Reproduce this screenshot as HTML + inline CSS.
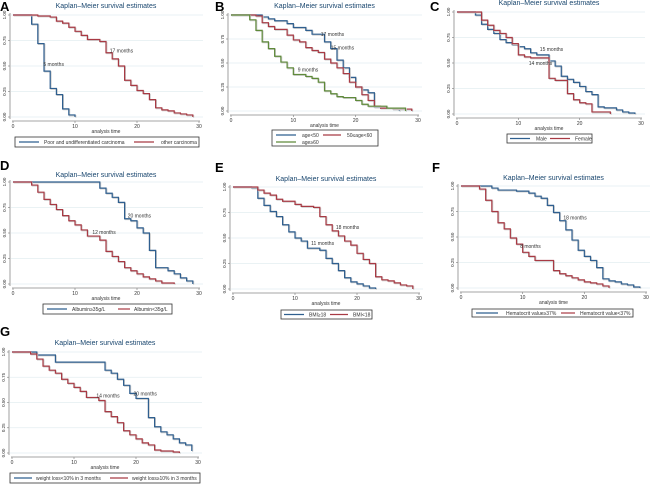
<!DOCTYPE html>
<html><head><meta charset="utf-8">
<style>
html,body{margin:0;padding:0;background:#fff;}
svg{display:block;font-family:"Liberation Sans",sans-serif;}
</style></head>
<body>
<svg id="fig" width="650" height="485" viewBox="0 0 650 485" xmlns="http://www.w3.org/2000/svg"></svg>
<script>
// ---- Data (times in months, survival probability after each step) ----
const xTicks=[0,10,20,30];
const yTicks=[0,0.25,0.5,0.75,1];
const yTickLabels=["0.00","0.25","0.50","0.75","1.00"];

const aPoorT=[3,4,5,6,7,8,9,10];
const aPoorS=[0.91,0.72,0.45,0.28,0.22,0.08,0.02,0];
const aOtherT=[4,6,7,8,9,10,11,12,14,15,16,17,18,19,20,21,22,23,24,25,26,27,28,29];
const aOtherS=[0.99,0.98,0.94,0.92,0.88,0.84,0.80,0.76,0.74,0.63,0.57,0.50,0.36,0.31,0.26,0.23,0.17,0.09,0.07,0.06,0.04,0.03,0.02,0];

const bYoungT=[5,6,7,9,10,12,13,15,16,17,18,19,20,21,22,23,24,26,27];
const bYoungS=[0.98,0.96,0.94,0.91,0.87,0.84,0.80,0.72,0.65,0.53,0.45,0.35,0.25,0.22,0.19,0.04,0.03,0.02,0];
const bMidT=[4,5,6,7,9,10,11,12,13,14,15,16,17,18,19,20,21,22,23,24,26,29];
const bMidS=[0.99,0.92,0.88,0.85,0.79,0.74,0.72,0.66,0.63,0.61,0.54,0.50,0.45,0.39,0.30,0.25,0.17,0.11,0.05,0.03,0.02,0];
const bOldT=[3,4,5,6,7,8,9,10,12,13,14,15,16,17,18,20,21,22,25,28];
const bOldS=[0.95,0.84,0.72,0.65,0.57,0.51,0.45,0.38,0.36,0.34,0.30,0.21,0.18,0.15,0.14,0.11,0.07,0.05,0.03,0];

const cMaleT=[3,4,5,6,7,8,9,10,11,12,13,15,16,17,18,19,20,21,22,23,24,26,27,28,29];
const cMaleS=[0.97,0.88,0.83,0.79,0.73,0.70,0.68,0.66,0.64,0.60,0.58,0.52,0.47,0.37,0.34,0.31,0.27,0.22,0.19,0.07,0.06,0.04,0.02,0.01,0];
const cFemT=[4,5,6,7,8,9,10,11,12,15,16,18,19,20,21,22,25];
const cFemS=[0.92,0.87,0.82,0.79,0.75,0.69,0.58,0.56,0.55,0.35,0.33,0.20,0.14,0.11,0.10,0.02,0];

const dHighT=[14,15,16,17,18,19,20,21,22,23,25,26,27,28,29];
const dHighS=[0.94,0.89,0.85,0.80,0.64,0.62,0.55,0.50,0.33,0.16,0.13,0.10,0.06,0.03,0];
const dLowT=[3,4,5,6,7,8,9,10,11,12,14,15,16,17,18,19,20,21,22,23,24,26];
const dLowS=[0.97,0.90,0.83,0.78,0.73,0.67,0.62,0.58,0.53,0.47,0.43,0.32,0.27,0.22,0.16,0.13,0.10,0.07,0.05,0.03,0.01,0];

const eHighT=[3,4,5,6,7,8,9,10,11,12,14,15,16,17,18,19,20,21,22,23];
const eHighS=[0.99,0.89,0.82,0.76,0.71,0.63,0.56,0.50,0.47,0.40,0.38,0.30,0.25,0.18,0.11,0.07,0.05,0.03,0.01,0];
const eLowT=[4,5,6,7,8,10,11,13,14,15,16,17,18,19,20,21,22,23,24,25,26,27,28,29];
const eLowS=[0.97,0.94,0.92,0.88,0.86,0.83,0.81,0.80,0.71,0.63,0.57,0.52,0.47,0.43,0.35,0.29,0.25,0.12,0.09,0.08,0.06,0.04,0.03,0];

const fHighT=[5,6,9,11,12,13,14,15,16,17,18,19,20,21,22,23,24,25,26,27,28,29];
const fHighS=[0.98,0.96,0.95,0.93,0.90,0.88,0.81,0.74,0.66,0.57,0.47,0.37,0.31,0.27,0.20,0.09,0.07,0.06,0.04,0.03,0.01,0];
const fLowT=[3,4,5,6,7,8,9,10,11,12,15,16,17,18,19,20,21,22,23,24];
const fLowS=[0.97,0.86,0.75,0.64,0.58,0.49,0.43,0.35,0.31,0.27,0.17,0.14,0.12,0.10,0.08,0.06,0.05,0.04,0.02,0];

const gLowT=[4,7,15,16,17,18,19,20,22,23,24,25,26,27,28,29];
const gLowS=[0.97,0.90,0.82,0.79,0.73,0.67,0.59,0.54,0.35,0.26,0.21,0.18,0.14,0.10,0.08,0.02];
const gHighT=[3,4,5,6,7,8,9,10,11,12,14,15,16,17,18,19,20,21,22,23,24,26,27];
const gHighS=[0.98,0.93,0.86,0.82,0.79,0.73,0.69,0.65,0.61,0.55,0.52,0.41,0.36,0.30,0.22,0.18,0.14,0.10,0.08,0.03,0.02,0.01,0];

const BLUE="#2f5f8f", RED="#a83a44", GREEN="#5f8a3a";
const NS="http://www.w3.org/2000/svg";
const svg=document.getElementById('fig');

function mk(tag,attrs,parent,text){
  const e=document.createElementNS(NS,tag);
  for(const k in attrs) e.setAttribute(k,attrs[k]);
  if(text!==undefined) e.textContent=text;
  (parent||svg).appendChild(e);
  return e;
}

function panel(p){
  const g=mk('g',{});
  
  
  const xs=t=>p.x0+(p.x30-p.x0)*t/30;
  const ys=s=>p.y0-(p.y0-p.y1)*s;
  const L=mk('text',{x:p.lx,y:p.ly,'font-size':13,'font-weight':'bold',fill:'#000'},g,p.letter);
  
  
  const T=mk('text',{x:(p.x0+p.x30)/2,y:p.ty,'font-size':7,fill:'#1a476f','text-anchor':'middle'},g,'Kaplan–Meier survival estimates');
  
  
  yTicks.forEach((v,i)=>{
    const gl=mk('line',{x1:p.x0-2,x2:p.x30+4,y1:ys(v),y2:ys(v),stroke:'#e3eef1','stroke-width':0.8},g);
    
    
  });
  const ax=p.x0-3, ay=p.y0+4;
  const ya=mk('line',{x1:ax,x2:ax,y1:p.y1-2,y2:p.y0+2,stroke:'#888','stroke-width':0.8},g);
  
  
  const xa=mk('line',{x1:p.x0-1,x2:p.x30+1,y1:ay,y2:ay,stroke:'#888','stroke-width':0.8},g);
  
  
  yTicks.forEach((v,i)=>{
    mk('line',{x1:ax-2,x2:ax,y1:ys(v),y2:ys(v),stroke:'#888','stroke-width':0.7},g);
    const tx=ax-4, ty=ys(v);
    const t=mk('text',{x:tx,y:ty,'font-size':4.5,fill:'#333','text-anchor':'middle',transform:`rotate(-90 ${tx} ${ty})`},g,yTickLabels[i]);
    
    
  });
  xTicks.forEach(v=>{
    mk('line',{x1:xs(v),x2:xs(v),y1:ay,y2:ay+2,stroke:'#888','stroke-width':0.7},g);
    const t=mk('text',{x:xs(v),y:ay+7,'font-size':5,fill:'#333','text-anchor':'middle'},g,String(v));
    
    
  });
  const at=mk('text',{x:(p.x0+p.x30)/2,y:ay+12,'font-size':5,fill:'#333','text-anchor':'middle'},g,'analysis time');
  
  
  p.series.forEach(s=>{
    let d=`M${xs(0)},${ys(1)}`;
    for(let i=0;i<s.t.length;i++){ d+=` H${xs(s.t[i])} V${ys(s.s[i])}`; }
    mk('path',{d:d,fill:'none',stroke:'#ccc','stroke-width':1.2,transform:'translate(0.8,0.8)'},g);
    const path=mk('path',{d:d,fill:'none',stroke:s.c,'stroke-width':1.2},g);
    
    
  });
  p.notes.forEach(n=>{
    const t=mk('text',{x:xs(n.t),y:ys(n.s),'font-size':5,fill:'#333'},g,n.label);
    
    
  });
  const lg=mk('g',{},g);
  
  
  mk('rect',{x:p.leg.x,y:p.leg.y,width:p.leg.w,height:p.leg.h,fill:'#fff',stroke:'#333','stroke-width':0.8},lg);
  p.leg.items.forEach(it=>{
    const e=mk('g',{},lg);
    
    
    mk('line',{x1:it.x,x2:it.x+it.lw,y1:it.y,y2:it.y,stroke:it.c,'stroke-width':1.2},e);
    mk('text',{x:it.x+it.lw+it.gap,y:it.y+1.8,'font-size':5,fill:'#333'},e,it.label);
  });
}

panel({letter:'A',lx:0,ly:11,ty:8,x0:13,x30:199,y1:15,y0:117,
  series:[{key:'poor-undifferentiated',t:aPoorT,s:aPoorS,c:BLUE},{key:'other-carcinoma',t:aOtherT,s:aOtherS,c:RED}],
  notes:[{t:4.9,s:0.50,label:'5 months'},{t:15.6,s:0.63,label:'17 months'}],
  leg:{x:15,y:137,w:184,h:10,items:[{x:19,y:142,lw:20,gap:5,c:BLUE,label:'Poor and undifferentiated carcinoma'},{x:134,y:142,lw:20,gap:7,c:RED,label:'other carcinoma'}]}});

panel({letter:'B',lx:215,ly:11,ty:8,x0:231,x30:418,y1:15,y0:111,
  series:[{key:'age-under-50',t:bYoungT,s:bYoungS,c:BLUE},{key:'age-50-60',t:bMidT,s:bMidS,c:RED},{key:'age-over-60',t:bOldT,s:bOldS,c:GREEN}],
  notes:[{t:14.4,s:0.78,label:'17 months'},{t:16,s:0.64,label:'15 months'},{t:10.7,s:0.41,label:'9 months'}],
  leg:{x:272,y:130,w:106,h:16,items:[{x:276,y:135,lw:20,gap:6,c:BLUE,label:'age<50'},{x:323,y:135,lw:18,gap:6,c:RED,label:'50≤age<60'},{x:276,y:142,lw:20,gap:6,c:GREEN,label:'age≥60'}]}});

panel({letter:'C',lx:430,ly:11,ty:5,x0:457,x30:641,y1:12,y0:114,
  series:[{key:'male',t:cMaleT,s:cMaleS,c:BLUE},{key:'female',t:cFemT,s:cFemS,c:RED}],
  notes:[{t:13.5,s:0.62,label:'15 months'},{t:11.7,s:0.48,label:'14 months'}],
  leg:{x:507,y:134,w:85,h:9,items:[{x:510,y:138.5,lw:20,gap:6,c:BLUE,label:'Male'},{x:550,y:138.5,lw:20,gap:5,c:RED,label:'Female'}]}});

panel({letter:'D',lx:0,ly:170,ty:177,x0:13,x30:199,y1:182,y0:284,
  series:[{key:'albumin-high',t:dHighT,s:dHighS,c:BLUE},{key:'albumin-low',t:dLowT,s:dLowS,c:RED}],
  notes:[{t:18.5,s:0.65,label:'20 months'},{t:12.8,s:0.49,label:'12 months'}],
  leg:{x:43,y:304,w:129,h:10,items:[{x:47,y:309,lw:20,gap:5,c:BLUE,label:'Albumin≥35g/L'},{x:118,y:309,lw:12,gap:4,c:RED,label:'Albumin<35g/L'}]}});

panel({letter:'E',lx:215,ly:172,ty:181,x0:233,x30:419,y1:187,y0:289,
  series:[{key:'bmi-high',t:eHighT,s:eHighS,c:BLUE},{key:'bmi-low',t:eLowT,s:eLowS,c:RED}],
  notes:[{t:16.6,s:0.59,label:'18 months'},{t:12.6,s:0.43,label:'11 months'}],
  leg:{x:281,y:310,w:91,h:9,items:[{x:284,y:314.5,lw:20,gap:5,c:BLUE,label:'BMI≥18'},{x:330,y:314.5,lw:18,gap:5,c:RED,label:'BMI<18'}]}});

panel({letter:'F',lx:432,ly:172,ty:180,x0:461,x30:646,y1:186,y0:288,
  series:[{key:'hematocrit-high',t:fHighT,s:fHighS,c:BLUE},{key:'hematocrit-low',t:fLowT,s:fLowS,c:RED}],
  notes:[{t:16.6,s:0.67,label:'18 months'},{t:9.6,s:0.39,label:'8 months'}],
  leg:{x:472,y:309,w:161,h:8,items:[{x:476,y:313,lw:22,gap:8,c:BLUE,label:'Hematocrit value≥37%'},{x:561,y:313,lw:14,gap:5,c:RED,label:'Hematocrit value<37%'}]}});

panel({letter:'G',lx:0,ly:336,ty:345,x0:12,x30:198,y1:352,y0:453,
  series:[{key:'weight-loss-low',t:gLowT,s:gLowS,c:BLUE},{key:'weight-loss-high',t:gHighT,s:gHighS,c:RED}],
  notes:[{t:13.6,s:0.55,label:'14 months'},{t:19.6,s:0.57,label:'20 months'}],
  leg:{x:10,y:473,w:190,h:10,items:[{x:14,y:478,lw:18,gap:4,c:BLUE,label:'weight loss<10% in 3 months'},{x:110,y:478,lw:18,gap:4,c:RED,label:'weight loss≥10% in 3 months'}]}});
</script>
</body></html>
